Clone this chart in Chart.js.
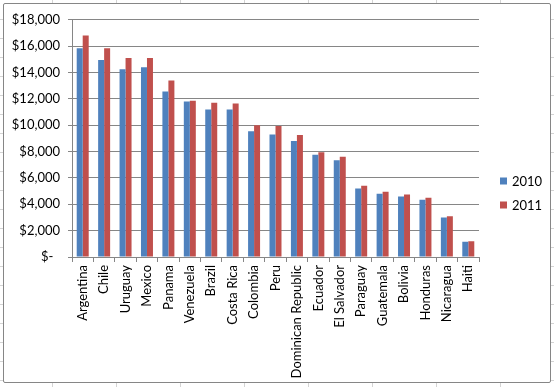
<!DOCTYPE html>
<html>
<head>
<meta charset="utf-8">
<script src="https://cdn.jsdelivr.net/npm/chart.js@4.4.0/dist/chart.umd.min.js"></script>
<style>
  html, body { margin: 0; padding: 0; }
  body {
    width: 554px; height: 387px; overflow: hidden; position: relative;
    background-color: #ffffff;
    background-image:
      repeating-linear-gradient(to right, transparent 0, transparent 51px, #d4d4d4 51px, #d4d4d4 52px, transparent 52px, transparent 64px),
      repeating-linear-gradient(to bottom, transparent 0, transparent 18px, #d4d4d4 18px, #d4d4d4 19px);
    background-position: 1px 0, 0 1px;
  }
  #frame {
    position: absolute; left: 3px; top: 3px; width: 546px; height: 378px;
    border: 1px solid #868686; border-radius: 2px; background: #ffffff;
  }
  canvas { display: block; }
</style>
</head>
<body>
<div id="frame"><canvas id="c" width="546" height="378"></canvas></div>
<script>
const categories = ["Argentina","Chile","Uruguay","Mexico","Panama","Venezuela","Brazil","Costa Rica","Colombia","Peru","Dominican Republic","Ecuador","El Salvador","Paraguay","Guatemala","Bolivia","Honduras","Nicaragua","Haiti"];
const values2010 = [15850,14950,14250,14400,12550,11800,11200,11200,9550,9300,8800,7750,7350,5200,4800,4600,4350,3000,1150];
const values2011 = [16800,15850,15100,15100,13400,11850,11700,11650,10000,9950,9250,7950,7600,5400,4950,4750,4500,3100,1200];
const seriesNames = ["2010","2011"];
const seriesColors = ["#4F81BD","#C0504D"];
const yTicks = [0,2000,4000,6000,8000,10000,12000,14000,16000,18000];

const FONT = "Lato, 'Open Sans', 'Liberation Sans', sans-serif";
const GRID = "#868686";

const legendPlugin = {
  id: 'sideLegend',
  afterDraw(chart) {
    const ctx = chart.ctx;
    ctx.save();
    ctx.font = "13px " + FONT;
    ctx.textBaseline = "middle";
    chart.data.datasets.forEach((ds, i) => {
      const y = 177 + i * 24;
      ctx.fillStyle = ds.backgroundColor;
      ctx.fillRect(496, y - 3.5, 7, 7);
      ctx.fillStyle = "#000";
      ctx.fillText(ds.label, 508, y + 0.5);
    });
    ctx.restore();
  }
};

new Chart(document.getElementById('c'), {
  type: 'bar',
  data: {
    labels: categories,
    datasets: [
      { label: seriesNames[0], data: values2010, backgroundColor: seriesColors[0] },
      { label: seriesNames[1], data: values2011, backgroundColor: seriesColors[1] }
    ]
  },
  options: {
    responsive: false,
    animation: false,
    events: [],
    layout: { padding: { top: 13, right: 71, left: 0, bottom: 0 } },
    plugins: { legend: { display: false }, tooltip: { enabled: false } },
    datasets: { bar: { categoryPercentage: 0.56, barPercentage: 1.0 } },
    scales: {
      x: {
        afterFit(scale) { scale.height = 125; },
        grid: { drawOnChartArea: false, drawTicks: true, tickLength: 5, color: GRID, offset: true },
        border: { color: GRID },
        ticks: {
          minRotation: 90, maxRotation: 90, autoSkip: false, padding: 3,
          color: "#000", font: { family: FONT, size: 13 }
        }
      },
      y: {
        min: 0, max: 18000,
        afterFit(scale) { scale.width = 68; },
        afterBuildTicks(scale) { scale.ticks = yTicks.map(v => ({ value: v })); },
        grid: { color: GRID, tickLength: 4 },
        border: { color: GRID },
        ticks: {
          padding: 8,
          color: "#000", font: { family: FONT, size: 13 },
          callback: v => v === 0 ? "$-  " : "$" + v.toLocaleString("en-US")
        }
      }
    }
  },
  plugins: [legendPlugin]
});
</script>
</body>
</html>
